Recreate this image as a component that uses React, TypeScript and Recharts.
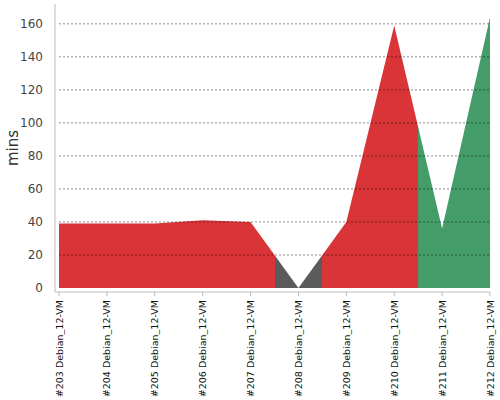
import { Area, AreaChart, ReferenceLine, XAxis, YAxis } from "recharts";

const BUILDS = [
  "#203 Debian_12-VM",
  "#204 Debian_12-VM",
  "#205 Debian_12-VM",
  "#206 Debian_12-VM",
  "#207 Debian_12-VM",
  "#208 Debian_12-VM",
  "#209 Debian_12-VM",
  "#210 Debian_12-VM",
  "#211 Debian_12-VM",
  "#212 Debian_12-VM",
];
const MINUTES = [39, 39, 39, 41, 40, 0, 40, 159, 36, 164];
const RESULTS = ["failure", "failure", "failure", "failure", "failure", "aborted", "failure", "failure", "success", "success"];
const Y_TICKS = [0, 20, 40, 60, 80, 100, 120, 140, 160];

const RESULT_COLORS: Record<string, string> = {
  failure: "#d93437",
  aborted: "#5b5b5b",
  success: "#449d69",
};

const data = BUILDS.map((build, i) => ({ build, mins: MINUTES[i] }));

// hard colour stops half way between builds
function gradientStops() {
  const n = BUILDS.length - 1;
  const stops: { offset: number; color: string }[] = [];
  RESULTS.forEach((r, i) => {
    const start = i === 0 ? 0 : (i - 0.5) / n;
    const end = i === n ? 1 : (i + 0.5) / n;
    stops.push({ offset: start, color: RESULT_COLORS[r] });
    stops.push({ offset: end, color: RESULT_COLORS[r] });
  });
  return stops;
}

function BuildTick({ x, y, payload }: any) {
  return (
    <text
      transform={`translate(${x + 3.5},${y + 2}) rotate(-90)`}
      textAnchor="end"
      fontSize={9.5}
      fontFamily="DejaVu Sans"
      fill="#111"
    >
      {payload.value}
    </text>
  );
}

export default function App() {
  return (
    <div style={{ position: "absolute", left: 0, top: 0, background: "#fff" }}>
      <AreaChart width={500} height={400} data={data} margin={{ top: 4, right: 10, bottom: 0, left: 0 }}>
        <defs>
          <linearGradient id="status" x1="0" y1="0" x2="1" y2="0">
            {gradientStops().map((s, i) => (
              <stop key={i} offset={s.offset} stopColor={s.color} />
            ))}
          </linearGradient>
        </defs>
        <XAxis
          dataKey="build"
          interval={0}
          height={108}
          padding={{ left: 4, right: 0 }}
          stroke="#bbb"
          tickSize={4}
          tick={<BuildTick />}
        />
        <YAxis
          width={55}
          domain={[0, 172]}
          ticks={Y_TICKS}
          padding={{ top: 0, bottom: 4 }}
          stroke="#bbb"
          tickLine={false}
          tickMargin={6}
          tick={{ fill: "#444", fontSize: 12, fontFamily: "DejaVu Sans" }}
          label={{
            value: "mins",
            angle: -90,
            position: "insideLeft",
            offset: 13,
            style: { fill: "#333", fontSize: 15, fontFamily: "DejaVu Sans", textAnchor: "middle" },
          }}
        />
        <Area
          type="linear"
          dataKey="mins"
          stroke="none"
          fill="url(#status)"
          fillOpacity={1}
          isAnimationActive={false}
          activeDot={false}
        />
        {Y_TICKS.slice(1).map((t) => (
          <ReferenceLine
            key={t}
            segment={[
              { x: BUILDS[0], y: t },
              { x: BUILDS[BUILDS.length - 1], y: t },
            ]}
            stroke="#000"
            strokeOpacity={0.45}
            strokeDasharray="2 2"
          />
        ))}
      </AreaChart>
    </div>
  );
}
